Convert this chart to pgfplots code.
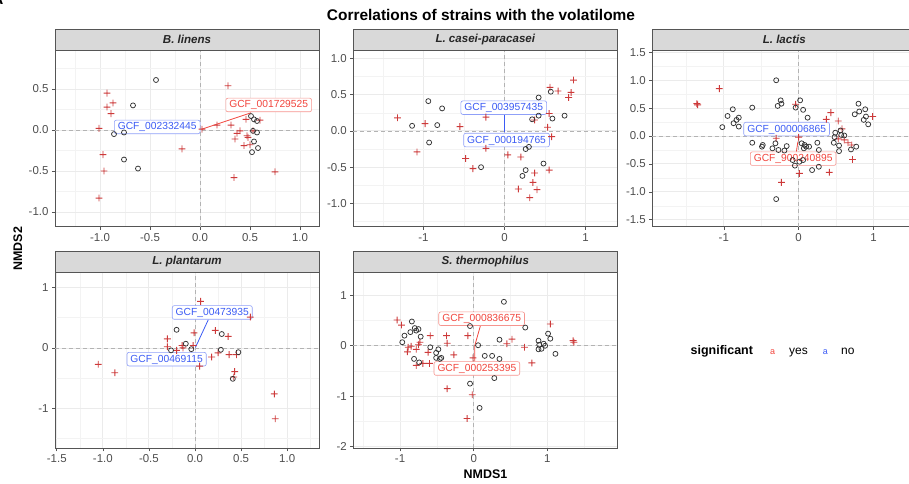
\documentclass[border=0pt]{standalone}
\usepackage{pgfplots}
\pgfplotsset{compat=1.18}
\usepackage{fontspec}
\setmainfont{Liberation Sans}

\definecolor{ptred}{HTML}{CD3A3A}
\definecolor{circ}{HTML}{333333}
\definecolor{labred}{HTML}{F2453D}
\definecolor{labredb}{HTML}{F6958F}
\definecolor{labblue}{HTML}{3B5BF5}
\definecolor{labblueb}{HTML}{8FA0F8}
\definecolor{gridmaj}{HTML}{EBEBEB}
\definecolor{gridmin}{HTML}{F3F3F3}
\definecolor{stripfill}{HTML}{D9D9D9}
\definecolor{bordercol}{HTML}{555555}
\definecolor{ticklab}{HTML}{4D4D4D}
\definecolor{zerocol}{HTML}{B3B3B3}

% plus mark built from two filled bars
\pgfdeclareplotmark{redplus}{%
  \pgfsetfillcolor{ptred}%
  \pgfpathrectanglecorners{\pgfqpoint{-\pgfplotmarksize}{-0.46bp}}{\pgfqpoint{\pgfplotmarksize}{0.46bp}}%
  \pgfpathrectanglecorners{\pgfqpoint{-0.46bp}{-\pgfplotmarksize}}{\pgfqpoint{0.46bp}{\pgfplotmarksize}}%
  \pgfsetnonzerorule
  \pgfusepathqfill}
% open circle mark
\pgfdeclareplotmark{opencirc}{%
  \pgfsetstrokecolor{circ}%
  \pgfsetlinewidth{0.75bp}%
  \pgfpathcircle{\pgfpointorigin}{\pgfplotmarksize}%
  \pgfusepathqstroke}

\pgfplotsset{
  panel/.style={
    scale only axis, width=264bp, height=176bp, anchor=south west,
    axis line style={draw=bordercol, line width=0.6bp},
    tick align=outside, xtick pos=bottom, ytick pos=left,
    tick style={draw=bordercol, line width=0.6bp},
    major tick length=3bp, minor tick length=0pt,
    grid=both,
    major grid style={draw=gridmaj, line width=0.9bp},
    minor grid style={draw=gridmin, line width=0.5bp},
    tick label style={font=\fontsize{11.5}{13}\selectfont, text=ticklab},
    clip=false,
  },
  redpts/.style={only marks, mark=redplus, color=ptred, mark size=3.4bp},
  circpts/.style={only marks, mark=opencirc, color=circ, mark size=2.5bp},
}
\tikzset{
  zeroline/.style={draw=zerocol, line width=0.6bp, dash pattern=on 4bp off 3bp},
  lab/.style={draw=#1b, fill=white, text=#1, rounded corners=2bp, line width=0.6bp,
    font=\fontsize{10.3}{12}\selectfont, inner xsep=3.5bp, inner ysep=2.2bp,
    text height=7.6bp, text depth=1.6bp},
  seg/.style={draw=#1, line width=0.8bp},
  strip/.style={draw=bordercol, fill=stripfill, line width=0.6bp},
  striptext/.style={font=\fontsize{11.6}{14}\selectfont\bfseries\itshape, text=black!85},
}

\newcommand{\zerolines}{%
  \draw[zeroline] ({axis cs:0,0}|-{rel axis cs:0,0}) -- ({axis cs:0,0}|-{rel axis cs:0,1});
  \draw[zeroline] ({axis cs:0,0}-|{rel axis cs:0,0}) -- ({axis cs:0,0}-|{rel axis cs:1,0});
}

\begin{document}
\begin{tikzpicture}
\useasboundingbox (0,0) rectangle (909bp,-484bp);

% ---------------- B. linens ----------------
\begin{axis}[panel, at={(55bp,-226.7bp)},
  xmin=-1.45, xmax=1.19, ymin=-1.179, ymax=0.967,
  xtick={-1,-0.5,0,0.5,1}, xticklabels={-1.0,-0.5,0.0,0.5,1.0},
  ytick={-1,-0.5,0,0.5}, yticklabels={-1.0,-0.5,0.0,0.5},
  minor xtick={-1.25,-0.75,-0.25,0.25,0.75},
  minor ytick={-0.75,-0.25,0.25,0.75}]
\zerolines
\addplot[redpts] table {
-0.93 0.45
-0.93 0.28
-0.87 0.33
-0.89 0.20
-1.01 0.02
-0.97 -0.30
-0.96 -0.50
-1.01 -0.83
-0.18 -0.23
0.28 0.54
0.17 0.06
0.31 0.06
0.46 0.13
0.60 0.12
0.40 -0.01
0.37 -0.04
0.35 -0.11
0.47 -0.07
0.48 -0.09
0.44 -0.19
0.50 -0.18
0.34 -0.58
0.75 -0.51
0.53 -0.01
0.02 0.01
};
\addplot[circpts] table {
-0.44 0.61
-0.67 0.30
-0.86 -0.05
-0.76 -0.03
-0.76 -0.36
-0.62 -0.47
0.51 0.17
0.54 0.13
0.57 0.11
0.53 -0.01
0.57 -0.03
0.54 -0.14
0.58 -0.22
0.52 -0.27
};
\addplot[seg=labred] coordinates {(0.017,0.01) (0.51,0.21)};
\node[lab=labred] at (axis cs:0.687,0.305) {GCF\_001729525};
\node[lab=labblue] at (axis cs:-0.428,0.037) {GCF\_002332445};
\end{axis}

% ---------------- L. casei-paracasei ----------------
\begin{axis}[panel, at={(353.3bp,-226.7bp)},
  xmin=-1.865, xmax=1.39, ymin=-1.32, ymax=1.105,
  xtick={-1,0,1}, xticklabels={-1,0,1},
  ytick={-1,-0.5,0,0.5,1}, yticklabels={-1.0,-0.5,0.0,0.5,1.0},
  minor xtick={-1.5,-0.5,0.5},
  minor ytick={-1.25,-0.75,-0.25,0.25,0.75}]
\zerolines
\addplot[redpts] table {
-1.32 0.18
-0.98 0.10
-0.55 0.06
-1.08 -0.29
-0.23 0.19
-0.23 -0.24
-0.48 -0.38
-0.39 -0.52
0.04 -0.33
0.20 -0.36
0.17 -0.80
0.31 -0.92
0.35 -0.71
0.37 -0.58
0.40 -0.81
0.55 -0.54
0.53 0.05
0.58 -0.08
0.37 0.15
0.55 0.24
0.56 0.60
0.66 0.55
0.79 0.46
0.82 0.53
0.85 0.70
};
\addplot[circpts] table {
-1.14 0.07
-0.94 0.41
-0.77 0.31
-0.83 0.08
-0.93 -0.16
-0.29 -0.50
0.42 0.46
0.57 0.54
0.34 0.16
0.42 0.21
0.59 0.17
0.74 0.21
0.26 -0.25
0.30 -0.22
0.26 -0.54
0.22 -0.62
0.48 -0.45
};
\addplot[seg=labblue] coordinates {(0,0.22) (0,-0.02)};
\node[lab=labblue] at (axis cs:-0.01,0.32) {GCF\_003957435};
\node[lab=labblue] at (axis cs:0.025,-0.126) {GCF\_000194765};
\end{axis}

% ---------------- L. lactis ----------------
\begin{axis}[panel, at={(652.3bp,-226.7bp)},
  xmin=-1.956, xmax=1.573, ymin=-1.625, ymax=1.53,
  xtick={-1,0,1}, xticklabels={-1,0,1},
  ytick={-1.5,-1,-0.5,0,0.5,1,1.5}, yticklabels={-1.5,-1.0,-0.5,0.0,0.5,1.0,1.5},
  minor xtick={-1.5,-0.5,0.5,1.5},
  minor ytick={-1.25,-0.75,-0.25,0.25,0.75,1.25}]
\zerolines
\addplot[redpts] table {
-1.36 0.58
-1.35 0.56
-1.06 0.85
-0.04 0.57
-0.30 -0.04
0.00 -0.02
-0.23 -0.83
0.01 -0.67
0.41 -0.65
0.43 0.42
0.53 0.27
0.37 0.30
0.58 0.13
0.61 -0.07
0.66 -0.12
0.71 -0.16
0.72 -0.42
0.99 0.35
0.53 -0.05
};
\addplot[circpts] table {
-0.30 1.00
-0.24 0.64
-0.23 0.58
-0.28 0.54
0.02 0.64
-0.04 0.51
0.06 0.47
0.12 0.33
-0.62 0.51
-0.88 0.48
-0.95 0.36
-1.02 0.16
-0.83 0.29
-0.80 0.33
-0.87 0.23
-0.80 0.17
-0.62 -0.12
-0.48 -0.16
-0.49 -0.19
-0.35 -0.22
-0.27 -0.25
-0.31 -0.13
-0.16 -0.18
-0.19 -0.26
-0.05 -0.53
-0.08 -0.43
0.01 -0.46
0.06 -0.43
0.04 -0.13
0.08 -0.16
0.10 -0.19
0.07 -0.22
0.14 -0.19
0.18 -0.61
0.25 -0.12
0.27 -0.25
0.27 -0.55
0.49 0.06
0.56 0.10
0.57 0.02
0.61 0.01
0.47 -0.12
0.54 -0.17
0.54 -0.27
0.48 -0.02
0.70 -0.24
0.77 -0.19
0.80 0.58
0.75 0.39
0.81 0.44
0.89 0.48
0.90 0.35
0.87 0.29
0.93 0.21
-0.30 -1.13
};
\addplot[seg=labred] coordinates {(-0.03,-0.28) (-0.01,-0.10)};
\node[lab=labblue] at (axis cs:-0.16,0.125) {GCF\_000006865};
\node[lab=labred] at (axis cs:-0.073,-0.405) {GCF\_900240895};
\end{axis}

% ---------------- L. plantarum ----------------
\begin{axis}[panel, at={(55bp,-448.3bp)},
  xmin=-1.519, xmax=1.345, ymin=-1.658, ymax=1.25,
  xtick={-1.5,-1,-0.5,0,0.5,1}, xticklabels={-1.5,-1.0,-0.5,0.0,0.5,1.0},
  ytick={-1,0,1}, yticklabels={-1,0,1},
  minor xtick={-1.25,-0.75,-0.25,0.25,0.75,1.25},
  minor ytick={-1.5,-0.5,0.5}]
\zerolines
\addplot[redpts] table {
0.06 0.77
0.60 0.51
-0.01 0.25
0.22 0.29
0.36 0.19
-0.30 0.15
-0.30 0.02
-0.14 0.04
-0.13 0.00
-0.02 0.04
-0.20 -0.04
0.18 -0.15
0.25 -0.08
0.37 -0.11
0.45 -0.11
0.43 -0.39
0.42 -0.48
-1.05 -0.27
-0.87 -0.41
0.86 -0.76
0.87 -1.17
0.05 -0.30
};
\addplot[circpts] table {
-0.20 0.30
-0.10 0.07
-0.26 -0.04
-0.04 -0.02
0.29 0.23
0.28 -0.03
0.47 -0.07
0.41 -0.51
};
\addplot[seg=labblue] coordinates {(0.145,0.47) (0.005,0.01)};
\node[lab=labblue] at (axis cs:0.187,0.586) {GCF\_00473935};
\node[lab=labblue] at (axis cs:-0.308,-0.185) {GCF\_00469115};
\end{axis}

% ---------------- S. thermophilus ----------------
\begin{axis}[panel, at={(353.3bp,-448.3bp)},
  xmin=-1.635, xmax=1.95, ymin=-2.03, ymax=1.454,
  xtick={-1,0,1}, xticklabels={-1,0,1},
  ytick={-2,-1,0,1}, yticklabels={-2,-1,0,1},
  minor xtick={-1.5,-0.5,0.5,1.5},
  minor ytick={-1.5,-0.5,0.5}]
\zerolines
\addplot[redpts] table {
-1.04 0.51
-0.98 0.41
-0.89 -0.03
-0.85 -0.01
-0.90 -0.12
-0.75 0.02
-0.73 0.07
-0.78 -0.07
-0.78 -0.39
-0.69 -0.35
-0.60 -0.35
-0.59 0.20
-0.62 -0.13
-0.37 0.20
-0.36 0.05
-0.27 -0.18
-0.36 -0.85
-0.08 0.20
-0.01 -0.24
-0.02 -0.97
-0.09 -1.44
0.52 0.13
0.45 0.04
0.69 -0.03
0.79 -0.34
1.04 0.43
1.35 0.10
1.36 0.07
};
\addplot[circpts] table {
-0.84 0.48
-0.80 0.35
-0.94 0.20
-0.97 0.07
-0.86 0.27
-0.78 0.30
-0.75 0.33
-0.72 0.18
-0.81 -0.26
-0.74 -0.33
-0.59 -0.03
-0.51 -0.14
-0.48 -0.07
-0.51 -0.24
-0.46 -0.26
-0.44 -0.24
-0.05 0.39
0.06 0.01
0.15 -0.20
0.25 -0.20
0.35 -0.26
0.28 -0.64
0.35 0.12
0.41 0.87
0.70 0.36
-0.05 -0.75
0.08 -1.23
0.88 0.10
0.89 0.02
0.92 -0.06
0.95 0.04
0.97 0.00
1.01 0.24
1.04 0.14
1.11 -0.16
0.88 -0.07
};
\addplot[seg=labred] coordinates {(0.09,0.39) (0.014,0.0) (0.014,-0.31)};
\node[lab=labred] at (axis cs:0.108,0.535) {GCF\_000836675};
\node[lab=labred] at (axis cs:0.043,-0.45) {GCF\_000253395};
\end{axis}

% facet strips
\foreach \x/\y/\name in {55/29/{B. linens}, 353.3/29/{L. casei-paracasei}, 652.3/29/{L. lactis},
                         55/251/{L. plantarum}, 353.3/251/{S. thermophilus}} {
  \draw[strip] (\x bp,-\y bp) rectangle ++(264bp,-21.7bp);
  \node[striptext] at ({\x bp+132bp},{-\y bp-10.85bp}) {\name};
}

% titles
\node[anchor=base, font=\fontsize{15.5}{18}\selectfont\bfseries] at (481bp,-20.7bp)
  {Correlations of strains with the volatilome};
\node[anchor=base east, inner sep=0pt, font=\fontsize{16}{18}\selectfont\bfseries] at (3.5bp,-4bp) {A};
\node[anchor=base, font=\fontsize{12.5}{14}\selectfont\bfseries] at (485.5bp,-478.5bp) {NMDS1};
\node[anchor=base, rotate=90, font=\fontsize{12.5}{14}\selectfont\bfseries] at (22bp,-248.7bp) {NMDS2};

% legend
\node[anchor=base west, inner sep=0pt, font=\fontsize{12.5}{14}\selectfont\bfseries] at (690.5bp,-354bp) {significant};
\node[anchor=base west, inner sep=0pt, text=labred, font=\fontsize{9}{10}\selectfont] at (770bp,-354bp) {a};
\node[anchor=base west, inner sep=0pt, font=\fontsize{12}{14}\selectfont] at (789bp,-354bp) {yes};
\node[anchor=base west, inner sep=0pt, text=labblue, font=\fontsize{9}{10}\selectfont] at (822.7bp,-354bp) {a};
\node[anchor=base west, inner sep=0pt, font=\fontsize{12}{14}\selectfont] at (841bp,-354bp) {no};
\end{tikzpicture}
\end{document}
